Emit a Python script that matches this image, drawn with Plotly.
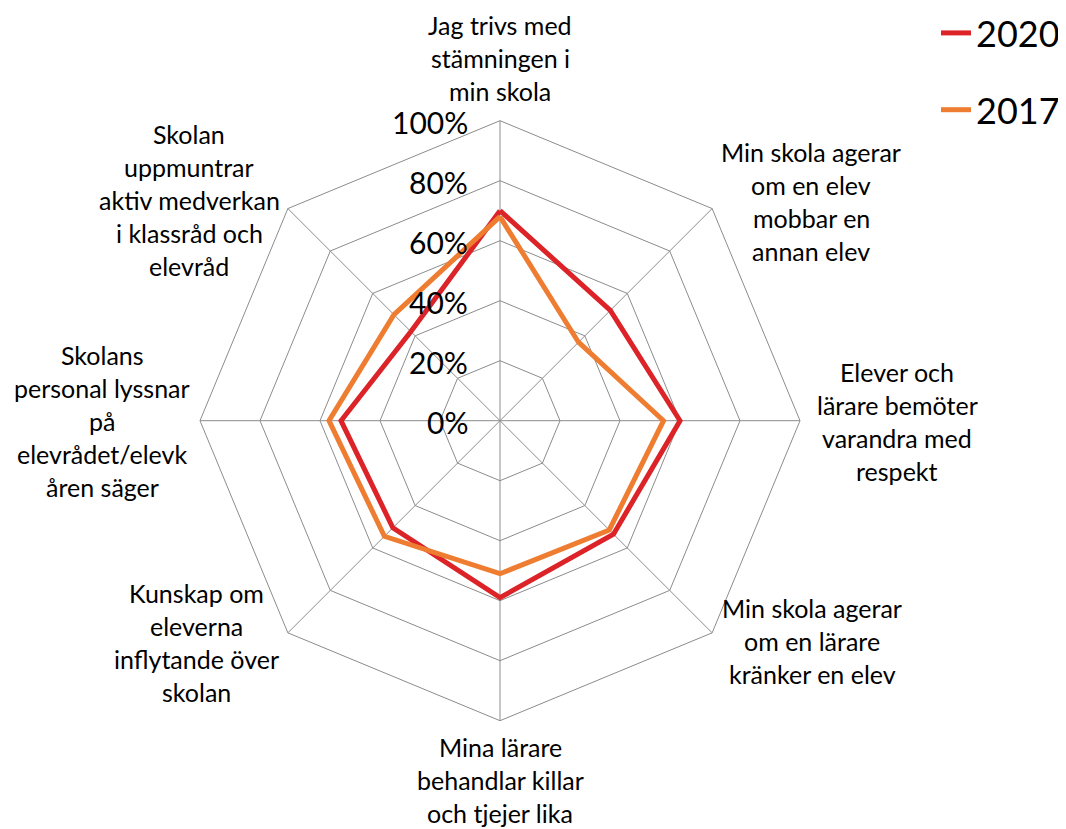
import plotly.graph_objects as go

# page is 1066x829; the HTML body adds an 8px margin around the figure
PAGE_W, PAGE_H = 1066, 829
MARGIN = 8
W, H = PAGE_W - MARGIN, PAGE_H - MARGIN

# ---------------- data ----------------
categories = [
    "Jag trivs med\nstämningen i\nmin skola",
    "Min skola agerar\nom en elev\nmobbar en\nannan elev",
    "Elever och\nlärare bemöter\nvarandra med\nrespekt",
    "Min skola agerar\nom en lärare\nkränker en elev",
    "Mina lärare\nbehandlar killar\noch tjejer lika",
    "Kunskap om\neleverna\ninflytande över\nskolan",
    "Skolans\npersonal lyssnar\npå\nelevrådet/elevk\nåren säger",
    "Skolan\nuppmuntrar\naktiv medverkan\ni klassråd och\nelevråd",
]
values_2020 = [0.70, 0.52, 0.60, 0.535, 0.59, 0.505, 0.53, 0.42]
values_2017 = [0.68, 0.37, 0.545, 0.515, 0.51, 0.545, 0.57, 0.50]
series_names = ["2020", "2017"]
radial_ticks = [0, 0.2, 0.4, 0.6, 0.8, 1.0]
radial_tick_labels = ["0%", "20%", "40%", "60%", "80%", "100%"]

# ---------------- style / layout ----------------
RED = "#DC2328"
ORANGE = "#EE7D31"
GRID = "#8C8C8C"
FONT = "Lato, 'Open Sans', sans-serif"

CX, CY, R = 500, 420.7, 300  # polar centre / radius in page pixels
label_centers = [(500, 58), (811, 201), (897, 421), (812, 641),
                 (500, 780), (196, 642), (102, 421), (189, 200)]
LINE_GAP = 33


def px_to_paper(x, y):
    return (x - MARGIN) / W, 1 - (y - MARGIN) / H


theta = categories + categories[:1]
fig = go.Figure()
for name, vals, col in [(series_names[0], values_2020, RED),
                        (series_names[1], values_2017, ORANGE)]:
    fig.add_trace(go.Scatterpolar(
        r=vals + vals[:1], theta=theta, mode="lines", name=name,
        line=dict(color=col, width=5), legendgroup=name,
    ))

annotations = []
# category labels (one annotation per wrapped line)
for cat, (lx, ly) in zip(categories, label_centers):
    lines = cat.split("\n")
    n = len(lines)
    for i, ln in enumerate(lines):
        xp, yp = px_to_paper(lx, ly + (i - (n - 1) / 2) * LINE_GAP)
        annotations.append(dict(
            x=xp, y=yp, xref="paper", yref="paper", text=ln, showarrow=False,
            xanchor="center", yanchor="middle",
            font=dict(family=FONT, size=25, color="#000000"),
        ))
# radial tick labels
for v, t in zip(radial_ticks, radial_tick_labels):
    xp, yp = px_to_paper(CX - 30, CY - R * v + 1)
    annotations.append(dict(
        x=xp, y=yp, xref="paper", yref="paper", text=t, showarrow=False,
        xanchor="right", yanchor="middle",
        font=dict(family=FONT, size=30, color="#000000"),
    ))

x0, y0 = px_to_paper(CX - R, CY + R)
x1, y1 = px_to_paper(CX + R, CY - R)
lx0, ly0 = px_to_paper(936, 3)

fig.update_layout(
    width=W, height=H,
    margin=dict(l=0, r=0, t=0, b=0, autoexpand=False),
    paper_bgcolor="white",
    font=dict(family=FONT, color="#000000"),
    polar=dict(
        domain=dict(x=[x0, x1], y=[y0, y1]),
        bgcolor="white",
        gridshape="linear",
        radialaxis=dict(
            range=[0, 1], tickvals=radial_ticks, showticklabels=False,
            ticks="", showline=False, gridcolor=GRID, gridwidth=1,
        ),
        angularaxis=dict(
            direction="clockwise", rotation=90, showticklabels=False,
            ticks="", showline=True, linecolor=GRID, linewidth=1,
            gridcolor=GRID, gridwidth=1,
        ),
    ),
    showlegend=True,
    legend=dict(
        x=lx0, y=ly0, xanchor="left", yanchor="top",
        font=dict(family=FONT, size=36, color="#000000"),
        tracegroupgap=27, bgcolor="rgba(0,0,0,0)", itemwidth=30,
    ),
    annotations=annotations,
)

fig.write_html("out.html")
